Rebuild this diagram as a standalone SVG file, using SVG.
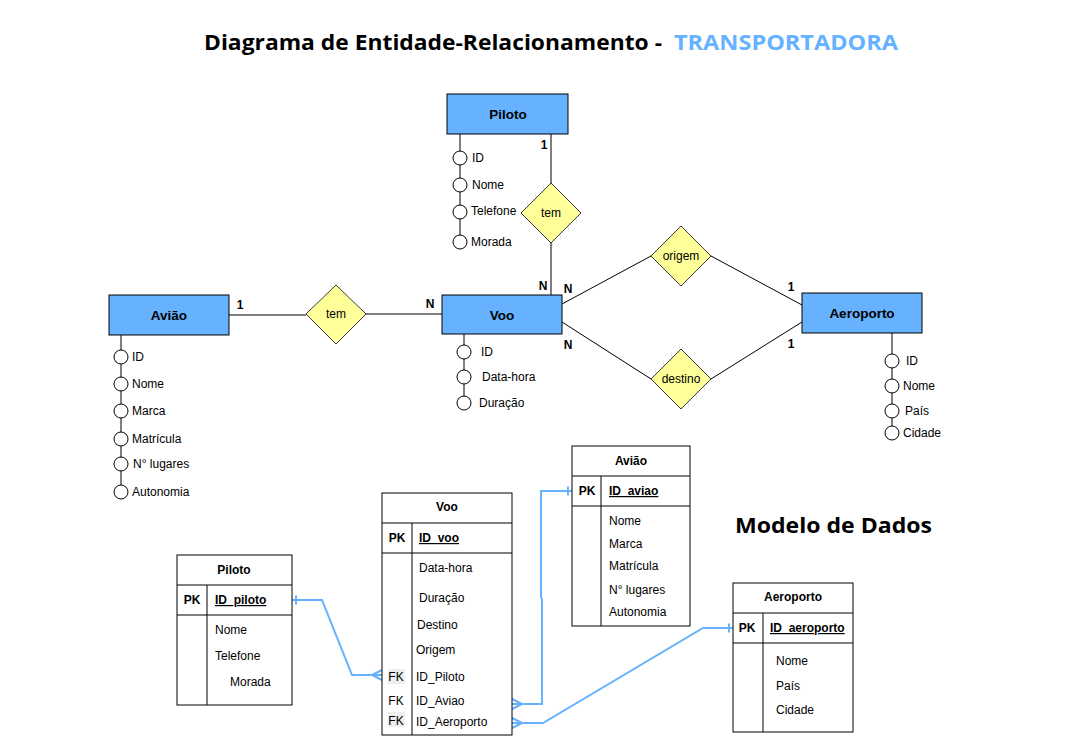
<svg xmlns="http://www.w3.org/2000/svg" width="1068" height="748" viewBox="0 0 1068 748">
<style>
.bg{fill:#ffffff}
.ent{fill:#66b2ff;stroke:#000;stroke-width:1}
.ename{font-family:"Liberation Sans",Arial,sans-serif;font-size:13.5px;font-weight:bold;fill:#000;text-anchor:middle}
.rel{fill:#ffff99;stroke:#36393d;stroke-width:1}
.rname{font-family:"Liberation Sans",Arial,sans-serif;font-size:12px;fill:#000;text-anchor:middle}
.attl{stroke:#000;stroke-width:1;fill:none}
.attc{fill:#fff;stroke:#000;stroke-width:1}
.att{font-family:"Liberation Sans",Arial,sans-serif;font-size:12px;fill:#000}
.card{font-family:"Liberation Sans",Arial,sans-serif;font-size:12px;font-weight:bold;fill:#000;text-anchor:middle}
.conn{stroke:#000;stroke-width:1;fill:none}
.tbl{fill:#fff;stroke:#000;stroke-width:1}
.tl{stroke:#000;stroke-width:1}
.th{font-family:"Liberation Sans",Arial,sans-serif;font-size:12px;font-weight:bold;fill:#000;text-anchor:middle}
.pk{font-family:"Liberation Sans",Arial,sans-serif;font-size:12px;font-weight:bold;fill:#000;text-anchor:middle}
.pkn{font-family:"Liberation Sans",Arial,sans-serif;font-size:12px;font-weight:bold;fill:#000;text-decoration:underline}
.tf{font-family:"Liberation Sans",Arial,sans-serif;font-size:12px;fill:#000}
.fk{font-family:"Liberation Sans",Arial,sans-serif;font-size:12px;fill:#000;text-anchor:middle}
.link{stroke:#66b2ff;stroke-width:2;fill:none;stroke-linejoin:miter}
.title{font-family:"Open Sans","Liberation Sans",sans-serif;font-size:22px;font-weight:bold;fill:#000}
</style>
<defs>
<marker id="one" markerUnits="userSpaceOnUse" viewBox="-12 -8 24 16" markerWidth="24" markerHeight="16" refX="0" refY="0" orient="auto">
<line x1="4" y1="-4.5" x2="4" y2="4.5" stroke="#66b2ff" stroke-width="2"/>
</marker>
<marker id="many" markerUnits="userSpaceOnUse" viewBox="-12 -8 24 16" markerWidth="24" markerHeight="16" refX="0" refY="0" orient="auto">
<path d="M-10,0 L0,-5 M-10,0 L0,0 M-10,0 L0,5" stroke="#66b2ff" stroke-width="2" fill="none"/>
</marker>
</defs>
<rect class="bg" x="0" y="0" width="1068" height="748"/>

<g id="title">
<text class="title" x="204" y="50" textLength="458" lengthAdjust="spacingAndGlyphs">Diagrama de Entidade-Relacionamento  -</text>
<text class="title" x="674" y="50" textLength="224" lengthAdjust="spacingAndGlyphs" style="fill:#66b2ff">TRANSPORTADORA</text>
</g>

<g id="connectors">
<line class="conn" x1="551" y1="134" x2="551" y2="183"/>
<line class="conn" x1="551" y1="243" x2="551" y2="295"/>
<line class="conn" x1="229" y1="315" x2="306" y2="315"/>
<line class="conn" x1="366" y1="314" x2="442" y2="314"/>
<line class="conn" x1="562" y1="304" x2="651" y2="256"/>
<line class="conn" x1="711" y1="256" x2="802" y2="305"/>
<line class="conn" x1="562" y1="322" x2="651" y2="379"/>
<line class="conn" x1="711" y1="379" x2="802" y2="322"/>
<text class="card" x="544" y="149">1</text>
<text class="card" x="543" y="290">N</text>
<text class="card" x="568" y="293">N</text>
<text class="card" x="568" y="349">N</text>
<text class="card" x="791" y="291">1</text>
<text class="card" x="791" y="348">1</text>
<text class="card" x="240" y="309">1</text>
<text class="card" x="430" y="308">N</text>
<path class="link" d="M292,600 H322 L352,675 H382" marker-start="url(#one)" marker-end="url(#many)"/>
<path class="link" d="M572,491 H541 V597 L542,599 V704 H512" marker-start="url(#one)" marker-end="url(#many)"/>
<path class="link" d="M733,628 H703 L543,723 H512" marker-start="url(#one)" marker-end="url(#many)"/>
</g>

<g id="er-piloto">
<rect class="ent" x="447" y="94" width="121" height="40"/>
<text class="ename" x="508" y="119">Piloto</text>
<line class="attl" x1="460" y1="134" x2="460" y2="236"/>
<circle class="attc" cx="460" cy="158" r="7"/>
<circle class="attc" cx="460" cy="185" r="7"/>
<circle class="attc" cx="460" cy="212" r="7"/>
<circle class="attc" cx="460" cy="242" r="7"/>
<text class="att" x="472" y="162">ID</text>
<text class="att" x="472" y="189">Nome</text>
<text class="att" x="471" y="215">Telefone</text>
<text class="att" x="471" y="246">Morada</text>
</g>

<g id="rel-tem-piloto">
<polygon class="rel" points="551,183 581,213 551,243 521,213"/>
<text class="rname" x="551" y="217">tem</text>
</g>

<g id="er-aviao">
<rect class="ent" x="109" y="295" width="120" height="40"/>
<text class="ename" x="169" y="320">Avião</text>
<line class="attl" x1="121" y1="335" x2="121" y2="485"/>
<circle class="attc" cx="121" cy="357" r="7"/>
<circle class="attc" cx="121" cy="384" r="7"/>
<circle class="attc" cx="121" cy="411" r="7"/>
<circle class="attc" cx="121" cy="439" r="7"/>
<circle class="attc" cx="121" cy="464" r="7"/>
<circle class="attc" cx="121" cy="492" r="7"/>
<text class="att" x="132" y="361">ID</text>
<text class="att" x="132" y="388">Nome</text>
<text class="att" x="132" y="415">Marca</text>
<text class="att" x="132" y="443">Matrícula</text>
<text class="att" x="133" y="468">N° lugares</text>
<text class="att" x="132" y="496">Autonomia</text>
</g>

<g id="rel-tem-aviao">
<polygon class="rel" points="336,285 366,314 336,344 306,314"/>
<text class="rname" x="336" y="318">tem</text>
</g>

<g id="er-voo">
<rect class="ent" x="442" y="295" width="120" height="39"/>
<text class="ename" x="502" y="320">Voo</text>
<line class="attl" x1="464" y1="334" x2="464" y2="398"/>
<circle class="attc" cx="464" cy="352" r="7"/>
<circle class="attc" cx="464" cy="377" r="7"/>
<circle class="attc" cx="464" cy="403" r="7"/>
<text class="att" x="481" y="356">ID</text>
<text class="att" x="482" y="381">Data-hora</text>
<text class="att" x="479" y="407">Duração</text>
</g>

<g id="rel-origem">
<polygon class="rel" points="681,226 711,256 681,286 651,256"/>
<text class="rname" x="681" y="260">origem</text>
</g>

<g id="rel-destino">
<polygon class="rel" points="681,349 711,379 681,409 651,379"/>
<text class="rname" x="681" y="383">destino</text>
</g>

<g id="er-aeroporto">
<rect class="ent" x="802" y="293" width="120" height="40"/>
<text class="ename" x="862" y="318">Aeroporto</text>
<line class="attl" x1="892" y1="333" x2="892" y2="428"/>
<circle class="attc" cx="892" cy="361" r="7"/>
<circle class="attc" cx="892" cy="386" r="7"/>
<circle class="attc" cx="892" cy="411" r="7"/>
<circle class="attc" cx="892" cy="433" r="7"/>
<text class="att" x="906" y="365">ID</text>
<text class="att" x="903" y="390">Nome</text>
<text class="att" x="905" y="415">País</text>
<text class="att" x="903" y="437">Cidade</text>
</g>

<g id="tbl-piloto">
<rect class="tbl" x="177" y="555" width="115" height="150"/>
<line class="tl" x1="177" y1="585" x2="292" y2="585"/>
<line class="tl" x1="177" y1="615" x2="292" y2="615"/>
<line class="tl" x1="207" y1="585" x2="207" y2="705"/>
<text class="th" x="234" y="574">Piloto</text>
<text class="pk" x="192" y="604">PK</text>
<text class="pkn" x="215" y="604">ID_piloto</text>
<text class="tf" x="215" y="634">Nome</text>
<text class="tf" x="215" y="660">Telefone</text>
<text class="tf" x="230" y="686">Morada</text>
</g>

<g id="tbl-voo">
<rect class="tbl" x="382" y="493" width="130" height="242"/>
<line class="tl" x1="382" y1="523" x2="512" y2="523"/>
<line class="tl" x1="382" y1="553" x2="512" y2="553"/>
<line class="tl" x1="412" y1="523" x2="412" y2="735"/>
<text class="th" x="447" y="511">Voo</text>
<text class="pk" x="397" y="542">PK</text>
<text class="pkn" x="419" y="542">ID_voo</text>
<text class="tf" x="419" y="572">Data-hora</text>
<text class="tf" x="419" y="602">Duração</text>
<text class="tf" x="417" y="629">Destino</text>
<text class="tf" x="416" y="654">Origem</text>
<rect x="388" y="669" width="17" height="15" fill="#eeeeee"/>
<rect x="388" y="712" width="17" height="15" fill="#eeeeee"/>
<text class="fk" x="396" y="681">FK</text>
<text class="tf" x="416" y="681">ID_Piloto</text>
<text class="fk" x="396" y="705">FK</text>
<text class="tf" x="416" y="705">ID_Aviao</text>
<text class="fk" x="396" y="725">FK</text>
<text class="tf" x="416" y="726">ID_Aeroporto</text>
</g>

<g id="tbl-aviao">
<rect class="tbl" x="572" y="446" width="118" height="180"/>
<line class="tl" x1="572" y1="476" x2="690" y2="476"/>
<line class="tl" x1="572" y1="506" x2="690" y2="506"/>
<line class="tl" x1="601" y1="476" x2="601" y2="626"/>
<text class="th" x="631" y="465">Avião</text>
<text class="pk" x="587" y="495">PK</text>
<text class="pkn" x="609" y="495">ID_aviao</text>
<text class="tf" x="609" y="525">Nome</text>
<text class="tf" x="609" y="548">Marca</text>
<text class="tf" x="609" y="570">Matrícula</text>
<text class="tf" x="609" y="594">N° lugares</text>
<text class="tf" x="609" y="616">Autonomia</text>
</g>

<g id="tbl-aeroporto">
<rect class="tbl" x="733" y="583" width="120" height="149"/>
<line class="tl" x1="733" y1="613" x2="853" y2="613"/>
<line class="tl" x1="733" y1="643" x2="853" y2="643"/>
<line class="tl" x1="763" y1="613" x2="763" y2="732"/>
<text class="th" x="793" y="601">Aeroporto</text>
<text class="pk" x="747" y="632">PK</text>
<text class="pkn" x="770" y="632">ID_aeroporto</text>
<text class="tf" x="776" y="665">Nome</text>
<text class="tf" x="776" y="690">País</text>
<text class="tf" x="776" y="714">Cidade</text>
</g>

<g id="label-modelo">
<text class="title" x="735" y="533" textLength="197" lengthAdjust="spacingAndGlyphs">Modelo de Dados</text>
</g>
</svg>
